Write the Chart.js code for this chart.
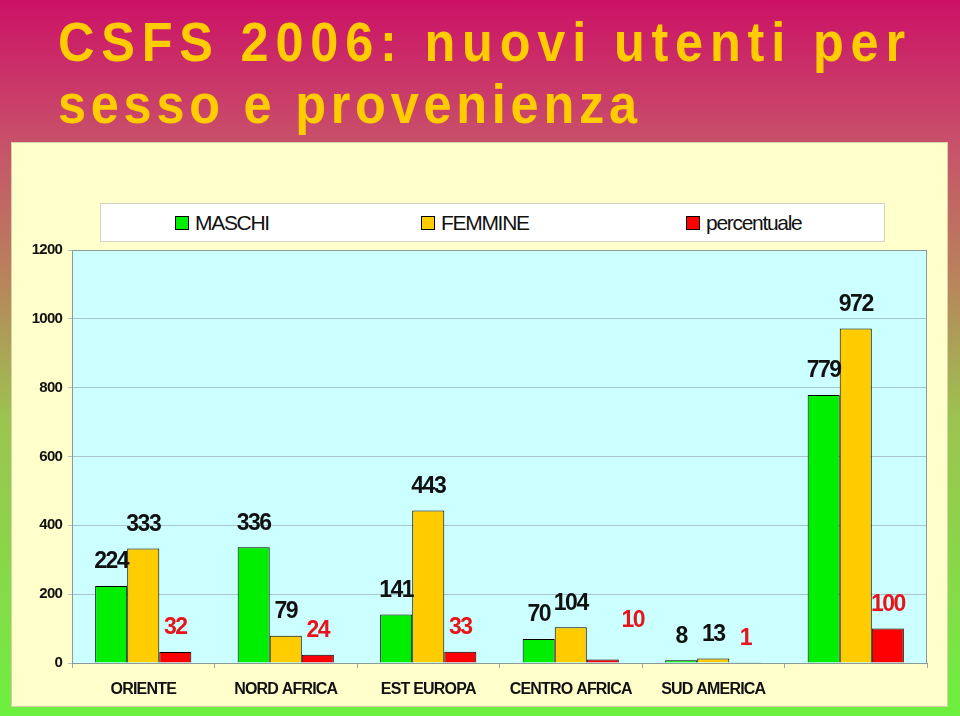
<!DOCTYPE html>
<html>
<head>
<meta charset="utf-8">
<script src="https://cdn.jsdelivr.net/npm/chart.js@4"></script>
<style>
  html, body { margin: 0; padding: 0; }
  body {
    width: 960px; height: 716px; position: relative; overflow: hidden;
    background: linear-gradient(to bottom, #cc1166 0px, #c8506a 140px, #b8845c 280px, #9cc450 420px, #84dc48 600px, #6cf03e 716px);
    font-family: "Liberation Sans", Arial, sans-serif;
  }
  #title {
    position: absolute; left: 58px; top: 11px;
    color: #ffcc00; font-weight: bold; font-size: 56px; line-height: 62px;
    font-family: "Liberation Sans", Arial, sans-serif;
    white-space: nowrap; transform-origin: 0 0;
  }
  #title div { width: max-content; }
  #box {
    position: absolute; left: 11px; top: 142px; width: 935px; height: 563px;
    background: #ffffcc; border: 1px solid #d8cfa8;
  }
  #legend {
    position: absolute; left: 100px; top: 203px; width: 783px; height: 37px;
    background: #ffffff; border: 1px solid #d4d4c4;
  }
  .item { position: absolute; top: 8px; font-size: 21px; letter-spacing: -1.3px; color: #111; line-height: 22px; }
  .sw { position: absolute; top: 12px; width: 12px; height: 12px; border: 1px solid #000; }
  canvas { position: absolute; left: 0; top: 0; }
</style>
</head>
<body>
<div id="title"><div id="t1">CSFS 2006: nuovi utenti per</div><div id="t2">sesso e provenienza</div></div>
<div id="box"></div>
<div id="legend"></div>
<canvas id="chart" width="960" height="716"></canvas>
<script>
const categories = ["ORIENTE", "NORD AFRICA", "EST EUROPA", "CENTRO AFRICA", "SUD AMERICA", ""];
const maschi = [224, 336, 141, 70, 8, 779];
const femmine = [333, 79, 443, 104, 13, 972];
const percentuale = [32, 24, 33, 10, 1, 100];
const seriesNames = ["MASCHI", "FEMMINE", "percentuale"];
const yTicks = [0, 200, 400, 600, 800, 1000, 1200];

const colors = ["#00ee00", "#ffcc00", "#ff0000"];
const labelColors = ["#111111", "#111111", "#e8141c"];

// narrow the title and spread each line to its width in the slide
(function () {
  const title = document.getElementById("title");
  const squeeze = 0.9;
  title.style.transform = "scaleX(" + squeeze + ")";
  [["t1", 847], ["t2", 579]].forEach(([id, target]) => {
    const el = document.getElementById(id);
    const w = el.getBoundingClientRect().width / squeeze;
    const n = el.textContent.length - 1;
    el.style.letterSpacing = ((target / squeeze - w) / n) + "px";
  });
})();

// legend (html)
const legendX = [74, 320, 585];
const legend = document.getElementById("legend");
seriesNames.forEach((name, i) => {
  const sw = document.createElement("div");
  sw.className = "sw";
  sw.style.left = legendX[i] + "px";
  sw.style.background = colors[i];
  legend.appendChild(sw);
  const it = document.createElement("div");
  it.className = "item";
  it.style.left = (legendX[i] + 20) + "px";
  it.textContent = name;
  legend.appendChild(it);
});

const plotBg = {
  id: "plotBg",
  beforeDraw(chart) {
    const { ctx, chartArea: a } = chart;
    ctx.save();
    ctx.fillStyle = "#ccffff";
    ctx.fillRect(a.left, a.top, a.right - a.left, a.bottom - a.top);
    ctx.restore();
    ctx.letterSpacing = "-0.8px";
  },
  beforeDatasetsDraw(chart) {
    const { ctx, chartArea: a } = chart;
    ctx.save();
    ctx.strokeStyle = "#8a9a9a";
    ctx.lineWidth = 1;
    ctx.strokeRect(a.left + 0.5, a.top + 0.5, a.right - a.left - 1, a.bottom - a.top);
    ctx.restore();
  }
};

// small manual nudges like the hand-placed labels in the slide
const nudge = { "2-3": [30, -15] };

const valueLabels = {
  id: "valueLabels",
  afterDatasetsDraw(chart) {
    const ctx = chart.ctx;
    ctx.save();
    ctx.font = "bold 23px 'Liberation Sans', Arial, sans-serif";
    ctx.letterSpacing = "-1.5px";
    ctx.textAlign = "center";
    ctx.textBaseline = "middle";
    chart.data.datasets.forEach((ds, di) => {
      chart.getDatasetMeta(di).data.forEach((bar, i) => {
        const n = nudge[di + "-" + i] || [0, 0];
        ctx.fillStyle = labelColors[di];
        ctx.fillText(String(ds.data[i]), bar.x + n[0], bar.y - 24 + n[1]);
      });
    });
    ctx.restore();
  }
};

new Chart(document.getElementById("chart"), {
  type: "bar",
  data: {
    labels: categories,
    datasets: [maschi, femmine, percentuale].map((d, i) => ({
      label: seriesNames[i],
      data: d,
      backgroundColor: colors[i],
      borderColor: "#000000",
      borderWidth: 1,
      borderSkipped: "bottom",
      categoryPercentage: 0.675,
      barPercentage: 1.0
    }))
  },
  options: {
    responsive: false,
    animation: false,
    layout: { padding: { left: 0, right: 33, top: 250, bottom: 0 } },
    plugins: { legend: { display: false }, tooltip: { enabled: false } },
    scales: {
      x: {
        grid: { drawOnChartArea: false, drawTicks: true, tickLength: 5, color: "#9aa8a8", offset: true },
        border: { color: "#8a9a9a" },
        ticks: { color: "#111", padding: 12, font: { family: "'Liberation Sans', Arial", size: 16, weight: "bold" } },
        afterFit(s) { s.height = 53; }
      },
      y: {
        min: 0, max: 1200,
        afterBuildTicks(s) { s.ticks = yTicks.map(v => ({ value: v })); },
        grid: { color: "#a6c6cc", tickLength: 4, drawTicks: true },
        border: { color: "#8a9a9a" },
        ticks: {
          color: "#111", padding: 6,
          font: { family: "'Liberation Sans', Arial", size: 15, weight: "bold" },
          callback: v => String(v)
        },
        afterFit(s) { s.width = 72; }
      }
    }
  },
  plugins: [plotBg, valueLabels]
});
</script>
</body>
</html>
